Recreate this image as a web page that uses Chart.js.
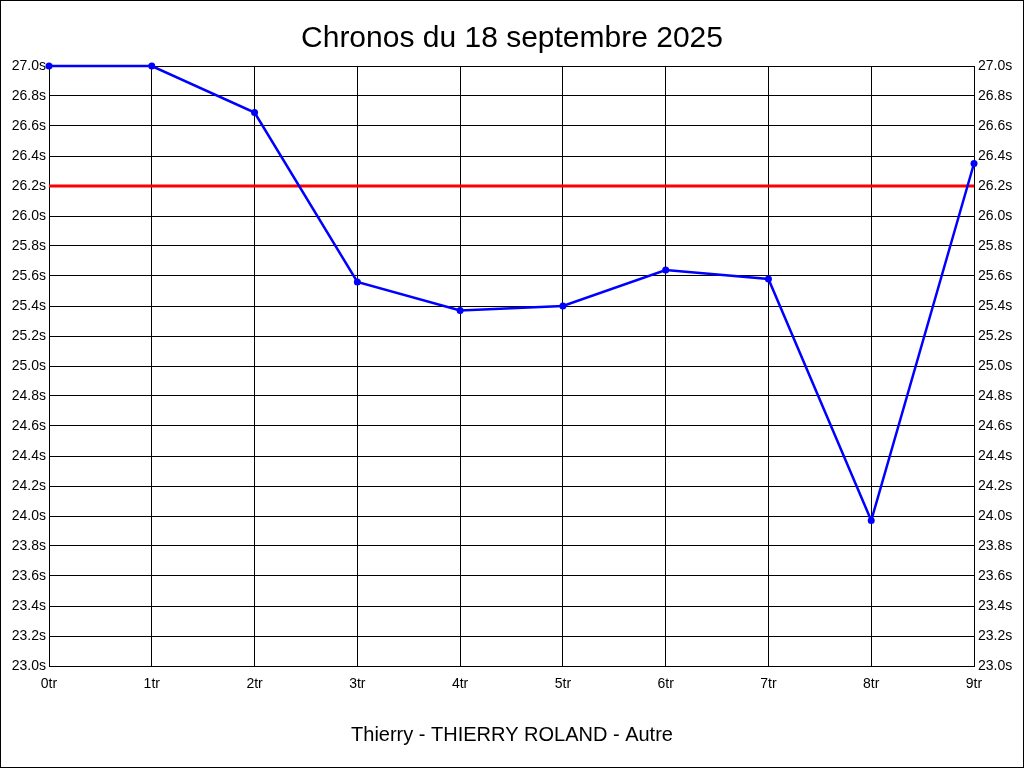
<!DOCTYPE html>
<html>
<head>
<meta charset="utf-8">
<title>Chronos du 18 septembre 2025</title>
<script src="https://cdn.jsdelivr.net/npm/chart.js@4.4.1/dist/chart.umd.min.js"></script>
<style>
  body { margin: 0; background: #fff; }
  canvas { display: block; }
</style>
</head>
<body>
<canvas id="chrono" width="1024" height="768"></canvas>
<script>
const laps = ['0tr', '1tr', '2tr', '3tr', '4tr', '5tr', '6tr', '7tr', '8tr', '9tr'];
const times = [27.0, 27.0, 26.69, 25.56, 25.37, 25.40, 25.64, 25.58, 23.97, 26.35];
const reference = 26.2;
const yMin = 23.0;
const yMax = 27.0;
const yStep = 0.2;

const refLine = laps.map(() => reference);

const tickFont = { family: "'Liberation Sans', Arial, sans-serif", size: 14 };

// black frame round the whole picture
const framePlugin = {
  id: 'frame',
  afterDraw(chart) {
    const ctx = chart.ctx;
    ctx.save();
    ctx.strokeStyle = '#000';
    ctx.lineWidth = 1;
    ctx.strokeRect(0.5, 0.5, chart.width - 1, chart.height - 1);
    ctx.restore();
  }
};

const fmt = (v) => Number(v).toFixed(1) + 's';

new Chart(document.getElementById('chrono'), {
  type: 'line',
  plugins: [framePlugin],
  data: {
    labels: laps,
    datasets: [
      {
        data: refLine,
        borderColor: '#ff0000',
        borderWidth: 3,
        pointRadius: 0,
        order: 2,
      },
      {
        data: times,
        borderColor: '#0000ff',
        backgroundColor: '#0000ff',
        borderWidth: 2.5,
        pointRadius: 3.5,
        pointBorderWidth: 0,
        tension: 0,
        clip: false,
        order: 1,
      },
    ],
  },
  options: {
    responsive: false,
    animation: false,
    layout: { padding: 0 },
    plugins: {
      legend: { display: false },
      tooltip: { enabled: false },
      title: {
        display: true,
        text: 'Chronos du 18 septembre 2025',
        color: '#000',
        font: { family: "'Liberation Sans', Arial, sans-serif", size: 30, weight: 'normal' },
        padding: { top: 21, bottom: 9 },
      },
      subtitle: {
        display: true,
        position: 'bottom',
        text: 'Thierry - THIERRY ROLAND - Autre',
        color: '#000',
        font: { family: "'Liberation Sans', Arial, sans-serif", size: 20 },
        padding: { top: 17, bottom: 21 },
      },
    },
    scales: {
      x: {
        offset: false,
        grid: { color: '#000', lineWidth: 1, drawTicks: false },
        border: { color: '#000' },
        ticks: { color: '#000', font: tickFont, padding: 10, maxRotation: 0 },
        afterFit: (s) => { s.height = 40; },
      },
      y: {
        min: yMin,
        max: yMax,
        position: 'left',
        grid: { color: '#000', lineWidth: 1, drawTicks: false },
        border: { color: '#000' },
        ticks: { color: '#000', font: tickFont, stepSize: yStep, padding: 3, callback: fmt },
        afterFit: (s) => { s.width = 49; },
      },
      y2: {
        min: yMin,
        max: yMax,
        position: 'right',
        grid: { display: false, drawTicks: false },
        border: { color: '#000' },
        ticks: { color: '#000', font: tickFont, stepSize: yStep, padding: 4, callback: fmt },
        afterFit: (s) => { s.width = 50; },
      },
    },
  },
});
</script>
</body>
</html>
